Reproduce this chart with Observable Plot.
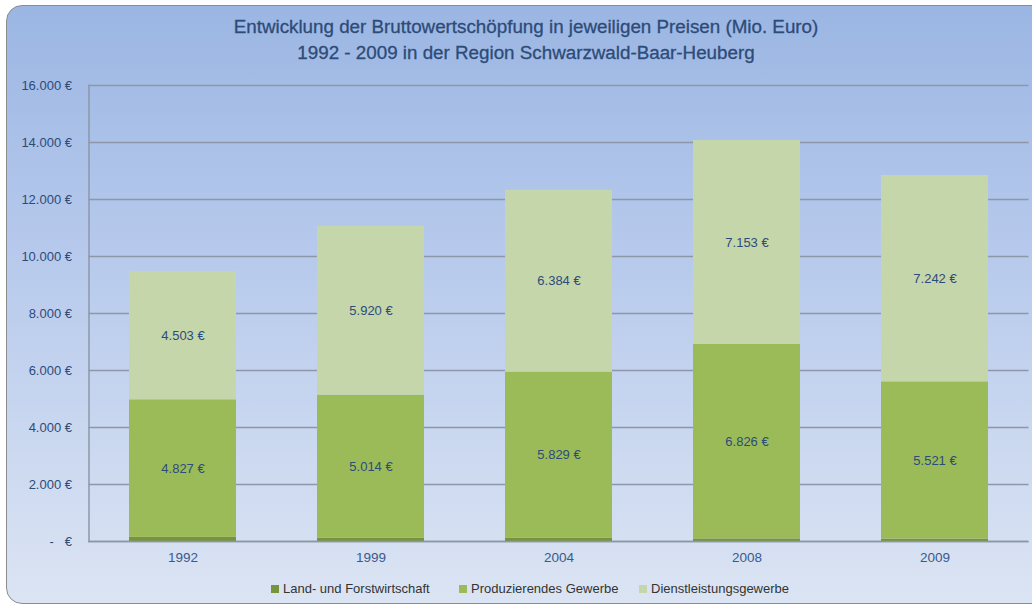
<!DOCTYPE html>
<html><head><meta charset="utf-8">
<script src="https://cdn.jsdelivr.net/npm/d3@7"></script>
<script src="https://cdn.jsdelivr.net/npm/@observablehq/plot@0.6"></script>
<style>
html,body{margin:0;padding:0;background:#fff;width:1032px;height:607px;overflow:hidden;font-family:"Liberation Sans",Arial,sans-serif;}
#clip{position:absolute;left:0;top:0;width:1032px;height:607px;overflow:hidden;}
#panel{position:absolute;left:6px;top:5px;width:1120px;height:597px;border:1.5px solid #8c8c8c;border-radius:16px;
background:linear-gradient(to bottom,#9bb6e3 0%,#b6c9ec 40%,#dbe4f3 100%);}
#title{position:absolute;left:0;top:14px;width:1052px;text-align:center;color:#2d4b78;font-size:18.8px;line-height:26px;-webkit-text-stroke:0.3px #2d4b78;}
#chart{position:absolute;left:0;top:70px;}
#legend{position:absolute;left:0;top:581px;width:1032px;font-size:13px;color:#333;}
.li{position:absolute;top:0;white-space:nowrap;}
.sw{display:inline-block;width:8px;height:8px;margin-right:4px;vertical-align:0px;}
</style></head><body>
<div id="clip"><div id="panel"></div></div>
<div id="title">Entwicklung der Bruttowertschöpfung in jeweiligen Preisen (Mio. Euro)<br>1992 - 2009 in der Region Schwarzwald-Baar-Heuberg</div>
<div id="chart"></div>
<div id="legend"></div>
<script>
const years = ["1992","1999","2004","2008","2009"];
const sectors = ["Land- und Forstwirtschaft","Produzierendes Gewerbe","Dienstleistungsgewerbe"];
const land = [144, 120, 110, 90, 80];
const produzierend = [4827, 5014, 5829, 6826, 5521];
const dienst = [4503, 5920, 6384, 7153, 7242];
const yTicks = [0,2000,4000,6000,8000,10000,12000,14000,16000];
const colors = ["#77933c","#9bbb59","#c5d6aa"];

const series = [land, produzierend, dienst];
const data = [];
years.forEach((yr,i)=>sectors.forEach((s,j)=>data.push({year:yr, sector:s, value:series[j][i]})));

const fmt = v => v===0 ? "-   €" : d3.format(",")(v).replace(/,/g,".") + " €";

const plot = Plot.plot({
  width:1032, height:505,
  marginLeft:88.5, marginRight:3.5, marginTop:15, marginBottom:34,
  style:{background:"transparent", fontFamily:"'Liberation Sans',Arial,sans-serif"},
  x:{domain:years, paddingInner:0.43, paddingOuter:0.215, label:null},
  y:{domain:[0,16000], label:null},
  color:{domain:sectors, range:colors},
  marks:[
    Plot.gridY(yTicks, {stroke:"#8d97a8", strokeOpacity:1, strokeWidth:1.5}),
    Plot.frame({anchor:"left", stroke:"#8d97a8", strokeWidth:1.5}),
    Plot.barY(data, {x:"year", y:"value", fill:"sector", z:"sector", order:sectors}),
    Plot.ruleY([0], {stroke:"#8d97a8", strokeWidth:1.5}),
    Plot.text(data, Plot.stackY({x:"year", y:"value", z:"sector", order:sectors,
      text:d => d.sector===sectors[0] ? null : fmt(d.value), fill:"#2d4b7a", fontSize:13})),
    Plot.axisY({ticks:yTicks, tickSize:0, tickPadding:17, tickFormat:fmt, fontSize:13, color:"#2d4b7a"}),
    Plot.axisX({tickSize:0, tickPadding:11, fontSize:13.5, color:"#3a5a8c"})
  ]
});
document.getElementById("chart").appendChild(plot);

const lg = document.getElementById("legend");
const lx = [271, 459, 639];
sectors.forEach((s,i)=>{
  const d = document.createElement("div");
  d.className="li"; d.style.left = lx[i]+"px";
  d.innerHTML = `<span class="sw" style="background:${colors[i]}"></span>${s}`;
  lg.appendChild(d);
});
</script>
</body></html>
